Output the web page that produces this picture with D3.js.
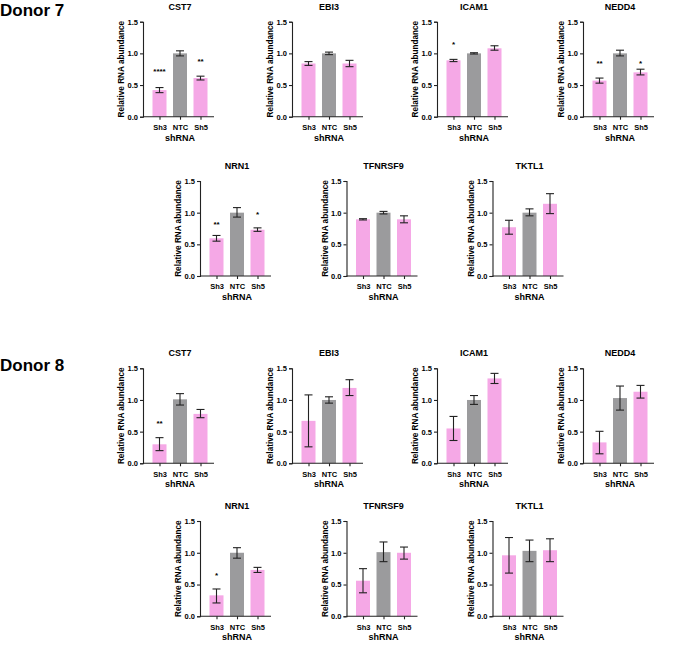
<!DOCTYPE html>
<html><head><meta charset="utf-8">
<script src="https://cdn.jsdelivr.net/npm/d3@7"></script>
<style>body{margin:0;background:#fff}svg{display:block}text{font-family:"Liberation Sans",Arial,sans-serif;font-weight:bold;fill:#000}</style>
</head><body>
<script>
const categories = ["Sh3","NTC","Sh5"];
const yTicks = [0, 0.5, 1.0, 1.5];
const genes = ["CST7","EBI3","ICAM1","NEDD4","NRN1","TFNRSF9","TKTL1"];
const donors = ["Donor 7","Donor 8"];
// Donor 7: mean, error low, error high per category
const d7Mean = [[0.42,1.00,0.61],[0.84,1.00,0.84],[0.89,1.00,1.08],[0.57,1.00,0.70],[0.595,1.00,0.73],[0.895,1.00,0.895],[0.77,1.00,1.14]];
const d7Low  = [[0.38,0.96,0.58],[0.81,0.98,0.79],[0.87,0.99,1.05],[0.53,0.96,0.66],[0.55,0.93,0.705],[0.885,0.98,0.84],[0.66,0.95,0.985]];
const d7High = [[0.46,1.04,0.64],[0.87,1.02,0.89],[0.905,1.01,1.12],[0.61,1.05,0.75],[0.64,1.08,0.76],[0.905,1.02,0.95],[0.88,1.06,1.30]];
const d7Stars = [["****","","**"],["","",""],["*","",""],["**","","*"],["**","","*"],["","",""],["","",""]];
const d7StarY = [[0.73,0,0.89],[0,0,0],[1.17,0,0],[0.87,0,0.87],[0.83,0,0.99],[0,0,0],[0,0,0]];
// Donor 8
const d8Mean = [[0.30,1.01,0.78],[0.67,1.00,1.19],[0.55,1.00,1.34],[0.33,1.03,1.13],[0.33,1.00,0.73],[0.56,1.01,1.00],[0.96,1.03,1.04]];
const d8Low  = [[0.20,0.92,0.72],[0.26,0.95,1.07],[0.36,0.93,1.26],[0.15,0.84,1.03],[0.21,0.915,0.69],[0.37,0.86,0.90],[0.68,0.86,0.86]];
const d8High = [[0.405,1.10,0.85],[1.08,1.05,1.32],[0.74,1.07,1.42],[0.505,1.22,1.23],[0.43,1.08,0.77],[0.75,1.17,1.09],[1.24,1.20,1.22]];
const d8Stars = [["**","",""],["","",""],["","",""],["","",""],["*","",""],["","",""],["","",""]];
const d8StarY = [[0.66,0,0],[0,0,0],[0,0,0],[0,0,0],[0.67,0,0],[0,0,0],[0,0,0]];

const colors = {Sh3:"#f5a8e6", NTC:"#9b9b9d", Sh5:"#f5a8e6"};

const svg = d3.select("body").append("svg").attr("width",693).attr("height",655);

// layout: panel axis x positions and row top/bottom (pixel)
const rowX = [[143,292,437,583],[200,346.5,492.5]];
const donorRows = [[{top:21.7,bottom:116.7},{top:181,bottom:276}],[{top:368.3,bottom:463.3},{top:521,bottom:616.3}]];
const donorLabelY = [15.5, 370.5];

const dataSets = [
  {mean:d7Mean, low:d7Low, high:d7High, stars:d7Stars, starY:d7StarY},
  {mean:d8Mean, low:d8Low, high:d8High, stars:d8Stars, starY:d8StarY}
];

dataSets.forEach((ds, di) => {
  svg.append("text").attr("x",0).attr("y",donorLabelY[di]).attr("font-size",17).text(donors[di]);
  genes.forEach((gene, gi) => {
    const row = gi < 4 ? 0 : 1;
    const col = gi < 4 ? gi : gi - 4;
    const x0 = rowX[row][col];
    const {top, bottom} = donorRows[di][row];
    const y = d3.scaleLinear().domain([0,1.5]).range([bottom, top]);
    const x = d3.scalePoint().domain(categories).range([x0+16.5, x0+57.5]);
    const g = svg.append("g");
    const bw = 14;
    categories.forEach((c, ci) => {
      const m = ds.mean[gi][ci];
      g.append("rect").attr("x", x(c)-bw/2).attr("y", y(m)).attr("width", bw).attr("height", y(0)-y(m))
        .attr("fill", colors[c]);
      const lo = y(ds.low[gi][ci]), hi = y(ds.high[gi][ci]);
      g.append("line").attr("x1",x(c)).attr("x2",x(c)).attr("y1",lo).attr("y2",hi).attr("stroke","#222").attr("stroke-width",1.1);
      [lo,hi].forEach(v => g.append("line").attr("x1",x(c)-4).attr("x2",x(c)+4).attr("y1",v).attr("y2",v).attr("stroke","#222").attr("stroke-width",1.1));
      const s = ds.stars[gi][ci];
      if (s) g.append("text").attr("x",x(c)).attr("y",y(ds.starY[gi][ci])+4).attr("text-anchor","middle").attr("font-size",8).attr("font-weight","normal").text(s);
    });
    // y axis
    const ya = g.append("g").attr("transform",`translate(${x0},0)`)
      .call(d3.axisLeft(y).tickValues(yTicks).tickFormat(d3.format(".1f")).tickSize(3).tickPadding(2));
    ya.select(".domain").attr("stroke","#222").attr("stroke-width",1.1);
    ya.selectAll(".tick line").attr("stroke","#222").attr("stroke-width",1.1);
    ya.selectAll(".tick text").attr("font-size",7.5).attr("font-family",'"Liberation Sans",Arial,sans-serif').attr("font-weight","bold").attr("fill","#000");
    // x axis
    const xa = g.append("g").attr("transform",`translate(0,${bottom})`)
      .call(d3.axisBottom(x).tickSize(3).tickPadding(5).tickSizeOuter(0));
    xa.select(".domain").attr("d",`M${x0},0H${x0+71}`).attr("stroke","#222").attr("stroke-width",1.1);
    xa.selectAll(".tick line").attr("stroke","#222").attr("stroke-width",1.1);
    xa.selectAll(".tick text").attr("font-size",7.5).attr("font-family",'"Liberation Sans",Arial,sans-serif').attr("font-weight","bold").attr("fill","#000");
    // titles
    g.append("text").attr("x",x0+37).attr("y",top-12).attr("text-anchor","middle").attr("font-size",9).text(gene);
    g.append("text").attr("x",x0+37).attr("y",bottom+24).attr("text-anchor","middle").attr("font-size",9).text("shRNA");
    g.append("text").attr("transform",`translate(${x0-19},${(top+bottom)/2}) rotate(-90)`).attr("text-anchor","middle").attr("font-size",8.2).text("Relative RNA abundance");
  });
});
</script>
</body></html>
